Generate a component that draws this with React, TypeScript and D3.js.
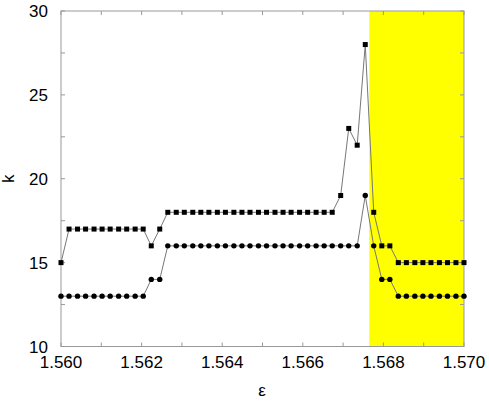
import React from "react";
import * as d3 from "d3";

// epsilon grid (50 samples between 1.560 and 1.570)
const eps = [
  1.56, 1.5602, 1.56041, 1.56061, 1.56082, 1.56102, 1.56122, 1.56143, 1.56163, 1.56184,
  1.56204, 1.56224, 1.56245, 1.56265, 1.56286, 1.56306, 1.56327, 1.56347, 1.56367, 1.56388,
  1.56408, 1.56429, 1.56449, 1.56469, 1.5649, 1.5651, 1.56531, 1.56551, 1.56571, 1.56592,
  1.56612, 1.56633, 1.56653, 1.56673, 1.56694, 1.56714, 1.56735, 1.56755, 1.56776, 1.56796,
  1.56816, 1.56837, 1.56857, 1.56878, 1.56898, 1.56918, 1.56939, 1.56959, 1.5698, 1.57,
];

// upper curve (squares)
const kSquares = [
  15, 17, 17, 17, 17, 17, 17, 17, 17, 17,
  17, 16, 17, 18, 18, 18, 18, 18, 18, 18,
  18, 18, 18, 18, 18, 18, 18, 18, 18, 18,
  18, 18, 18, 18, 19, 23, 22, 28, 18, 16,
  16, 15, 15, 15, 15, 15, 15, 15, 15, 15,
];

// lower curve (circles)
const kCircles = [
  13, 13, 13, 13, 13, 13, 13, 13, 13, 13,
  13, 14, 14, 16, 16, 16, 16, 16, 16, 16,
  16, 16, 16, 16, 16, 16, 16, 16, 16, 16,
  16, 16, 16, 16, 16, 16, 16, 19, 16, 14,
  14, 13, 13, 13, 13, 13, 13, 13, 13, 13,
];

const shadedFrom = 1.56765;
const xTicks = [1.56, 1.561, 1.562, 1.563, 1.564, 1.565, 1.566, 1.567, 1.568, 1.569, 1.57];
const xLabels = [1.56, 1.562, 1.564, 1.566, 1.568, 1.57];
const yTicks = [10, 12.5, 15, 17.5, 20, 22.5, 25, 27.5, 30];
const yLabels = [10, 15, 20, 25, 30];

const W = 489;
const H = 407;
const left = 61;
const right = 464;
const top = 11;
const bottom = 346.5;
const font = "'Liberation Sans', Arial, Helvetica, sans-serif";

export default function App() {
  const x = d3.scaleLinear().domain([1.56, 1.57]).range([left, right]);
  const y = d3.scaleLinear().domain([10, 30]).range([bottom, top]);
  const line = d3
    .line<number>()
    .x((_, i) => x(eps[i]))
    .y((d) => y(d));
  const tl = 4;

  return (
    <svg
      width={W}
      height={H}
      style={{ position: "absolute", left: 0, top: 0, background: "#fff" }}
    >
      <rect
        x={x(shadedFrom)}
        y={top}
        width={x(1.57) - x(shadedFrom)}
        height={bottom - top}
        fill="#ffff00"
      />
      <rect
        x={left}
        y={top}
        width={right - left}
        height={bottom - top}
        fill="none"
        stroke="#999"
        strokeWidth={1}
      />
      {xTicks.map((t) => (
        <g key={"xt" + t} stroke="#999">
          <line x1={x(t)} x2={x(t)} y1={bottom} y2={bottom - tl} />
          <line x1={x(t)} x2={x(t)} y1={top} y2={top + tl} />
        </g>
      ))}
      {yTicks.map((t) => (
        <g key={"yt" + t} stroke="#999">
          <line x1={left} x2={left + tl} y1={y(t)} y2={y(t)} />
          <line x1={right} x2={right - tl} y1={y(t)} y2={y(t)} />
        </g>
      ))}
      {xLabels.map((t) => (
        <text
          key={"xl" + t}
          x={x(t)}
          y={368}
          textAnchor="middle"
          fontFamily={font}
          fontSize={17}
        >
          {t.toFixed(3)}
        </text>
      ))}
      {yLabels.map((t) => (
        <text
          key={"yl" + t}
          x={48}
          y={y(t)}
          dy="0.36em"
          textAnchor="end"
          fontFamily={font}
          fontSize={17}
        >
          {t}
        </text>
      ))}
      <text
        x={262}
        y={396}
        textAnchor="middle"
        fontFamily={font}
        fontSize={17}
      >
        ε
      </text>
      <text
        transform={`translate(14,${y(20)}) rotate(-90)`}
        textAnchor="middle"
        fontFamily={font}
        fontSize={17}
      >
        k
      </text>

      <path d={line(kSquares) ?? ""} fill="none" stroke="#777" strokeWidth={1} />
      <path d={line(kCircles) ?? ""} fill="none" stroke="#777" strokeWidth={1} />
      {kSquares.map((d, i) => (
        <rect
          key={"s" + i}
          x={x(eps[i]) - 2.5}
          y={y(d) - 2.5}
          width={5}
          height={5}
          fill="#000"
        />
      ))}
      {kCircles.map((d, i) => (
        <circle key={"c" + i} cx={x(eps[i])} cy={y(d)} r={2.7} fill="#000" />
      ))}
    </svg>
  );
}
